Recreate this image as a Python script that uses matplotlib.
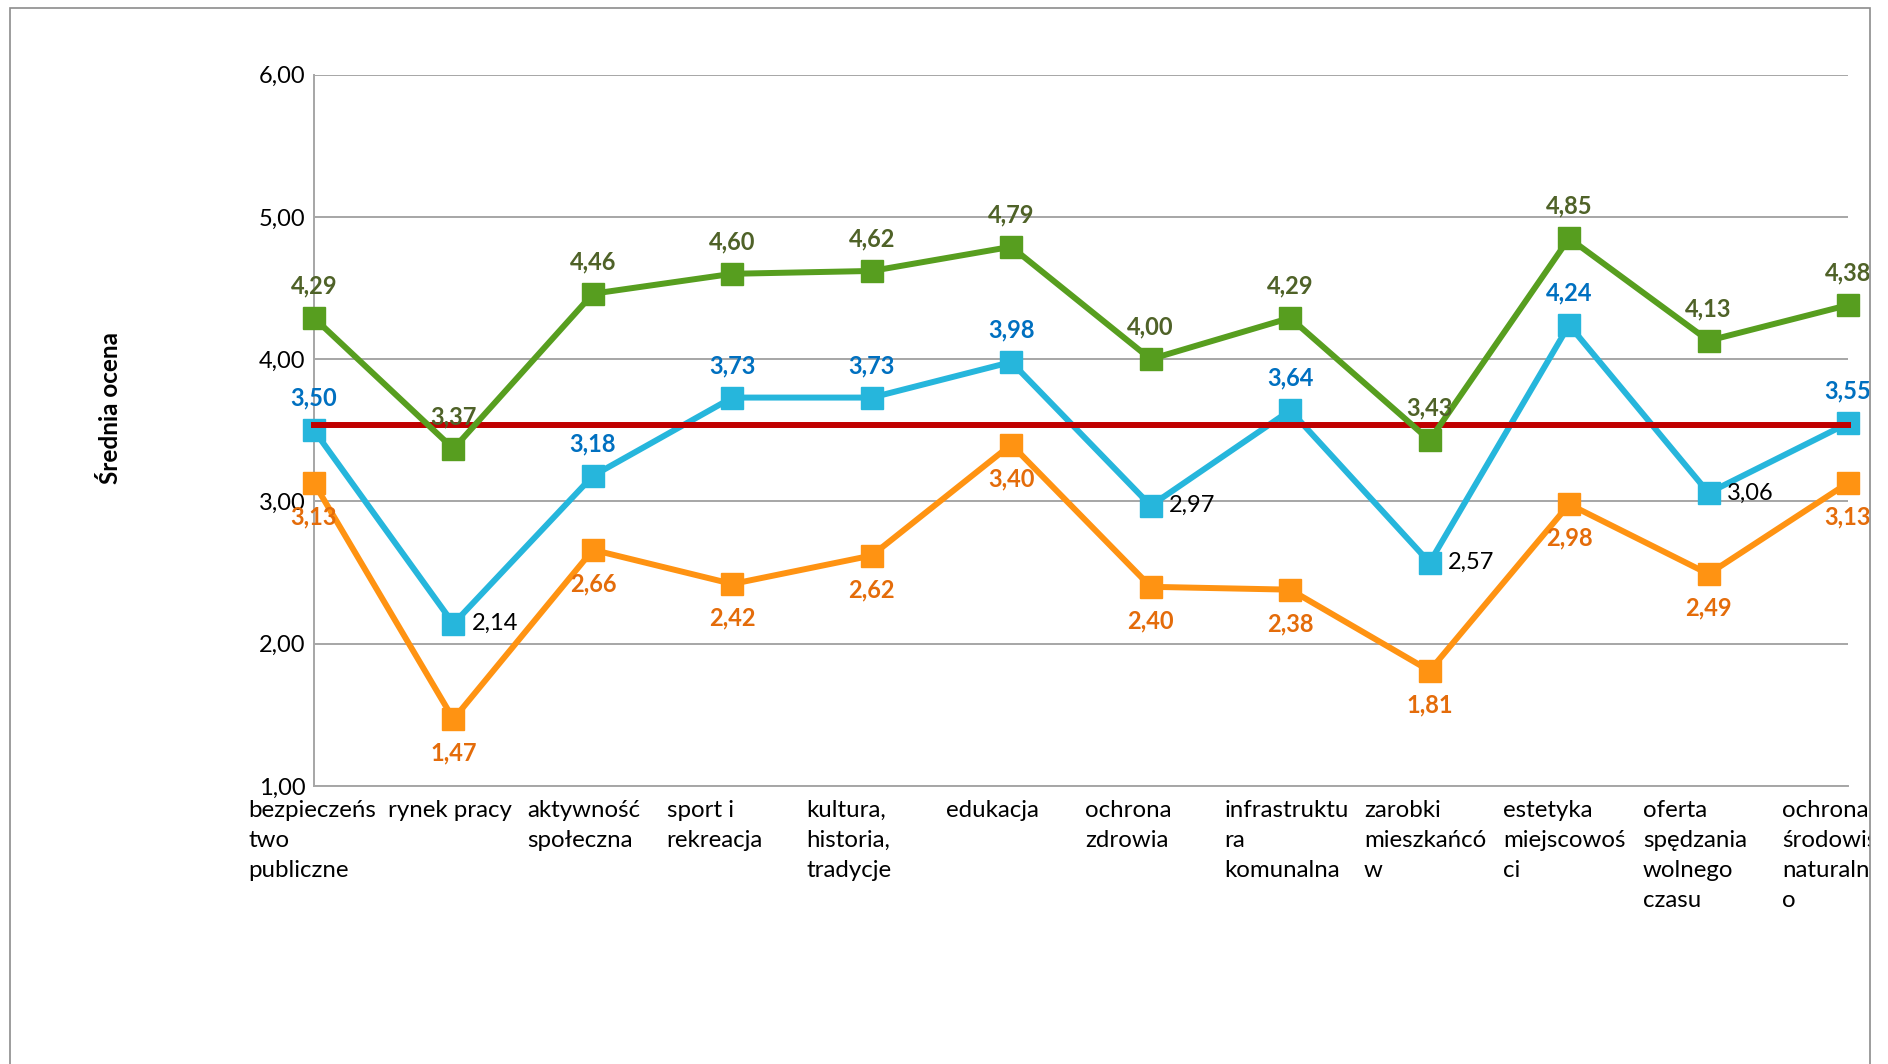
import matplotlib
matplotlib.use('Agg')
import matplotlib.pyplot as plt
from matplotlib.patches import Rectangle
from matplotlib.transforms import Bbox, TransformedBbox

plt.rcParams['font.family'] = ['Lato', 'DejaVu Sans']

categories = ["bezpieczeńs\ntwo\npubliczne", "rynek pracy", "aktywność\nspołeczna",
              "sport i\nrekreacja", "kultura,\nhistoria,\ntradycje", "edukacja",
              "ochrona\nzdrowia", "infrastruktu\nra\nkomunalna", "zarobki\nmieszkańcó\nw",
              "estetyka\nmiejscowoś\nci", "oferta\nspędzania\nwolnego\nczasu",
              "ochrona\nśrodowiska\nnaturalneg\no"]

green_vals = [4.29, 3.37, 4.46, 4.60, 4.62, 4.79, 4.00, 4.29, 3.43, 4.85, 4.13, 4.38]
blue_vals = [3.50, 2.14, 3.18, 3.73, 3.73, 3.98, 2.97, 3.64, 2.57, 4.24, 3.06, 3.55]
orange_vals = [3.13, 1.47, 2.66, 2.42, 2.62, 3.40, 2.40, 2.38, 1.81, 2.98, 2.49, 3.13]
mean_val = 3.54

# blue labels drawn to the right of the marker instead of above
blue_right = [1, 6, 8, 10]

yticks = [1, 2, 3, 4, 5, 6]

W, H = 1888, 1064
fig = plt.figure(figsize=(W / 100, H / 100), dpi=100)

# outer frame of the chart area (bottom edge lies outside the picture)
fx0, fy0, fx1, fy1 = 9.5 / W, -0.01, 1870 / W, 1 - 7.5 / H
frame = Rectangle((fx0, fy0), fx1 - fx0, fy1 - fy0, transform=fig.transFigure,
                  facecolor='none', edgecolor='#8c8c8c', linewidth=1.2)
fig.patches.append(frame)
clip_box = TransformedBbox(Bbox([[fx0, fy0], [fx1, fy1]]), fig.transFigure)

ax = fig.add_axes([314 / W, 1 - 786 / H, (1848 - 314) / W, (786 - 74.6) / H])

x = list(range(len(categories)))

ax.plot(x, [mean_val] * len(x), color='#C00000', linewidth=4.3, zorder=4, clip_on=False)

lw = 4.3
ms = 15.5
ax.plot(x, orange_vals, color='#FF9312', linewidth=lw, marker='s', markersize=ms, zorder=3, clip_on=False)
ax.plot(x, blue_vals, color='#26B6DC', linewidth=lw, marker='s', markersize=ms, zorder=3, clip_on=False)
ax.plot(x, green_vals, color='#579E1F', linewidth=lw, marker='s', markersize=ms, zorder=5, clip_on=False)

ax.set_xlim(0, len(x) - 1)
ax.set_ylim(1, 6)
ax.set_yticks(yticks)
ax.set_yticklabels([("%.2f" % v).replace('.', ',') for v in yticks], fontsize=17)
ax.tick_params(axis='y', length=0, pad=6)
ax.tick_params(axis='x', length=0, labelbottom=False)
ax.yaxis.grid(True, color='#a6a6a6', linewidth=1.4)
ax.set_axisbelow(True)
for s in ['top', 'right']:
    ax.spines[s].set_visible(False)
for s in ['left', 'bottom']:
    ax.spines[s].set_color('#a6a6a6')
    ax.spines[s].set_linewidth(1.4)

texts = []

def fmt(v):
    return ("%.2f" % v).replace('.', ',')

for i, v in enumerate(green_vals):
    t = ax.annotate(fmt(v), (i, v), xytext=(0, 32), textcoords='offset pixels',
                    ha='center', va='center', fontsize=17, fontweight='bold', color='#4F6228', zorder=6)
    texts.append(t)

for i, v in enumerate(blue_vals):
    if i in blue_right:
        t = ax.annotate(fmt(v), (i, v), xytext=(18, 0), textcoords='offset pixels',
                        ha='left', va='center', fontsize=17, color='black', zorder=6)
    else:
        t = ax.annotate(fmt(v), (i, v), xytext=(0, 32), textcoords='offset pixels',
                        ha='center', va='center', fontsize=17, fontweight='bold', color='#0070C0', zorder=6)
    texts.append(t)

for i, v in enumerate(orange_vals):
    t = ax.annotate(fmt(v), (i, v), xytext=(0, -34), textcoords='offset pixels',
                    ha='center', va='center', fontsize=17, fontweight='bold', color='#E46C0A', zorder=6)
    texts.append(t)

# category labels, left aligned in each category slot like excel wraps them
for i, c in enumerate(categories):
    t = ax.annotate(c, (i - 0.5, 1), xytext=(4, -14), textcoords='offset pixels',
                    ha='left', va='top', fontsize=17.3, linespacing=1.52, annotation_clip=False)
    texts.append(t)

fig.text(111 / W, 1 - 408 / H, "Średnia ocena", rotation=90, ha='center', va='center',
         fontsize=17.5, fontweight='bold')

for t in texts:
    t.set_clip_on(True)
    t.set_clip_box(clip_box)

fig.savefig("out.png", dpi=100)
